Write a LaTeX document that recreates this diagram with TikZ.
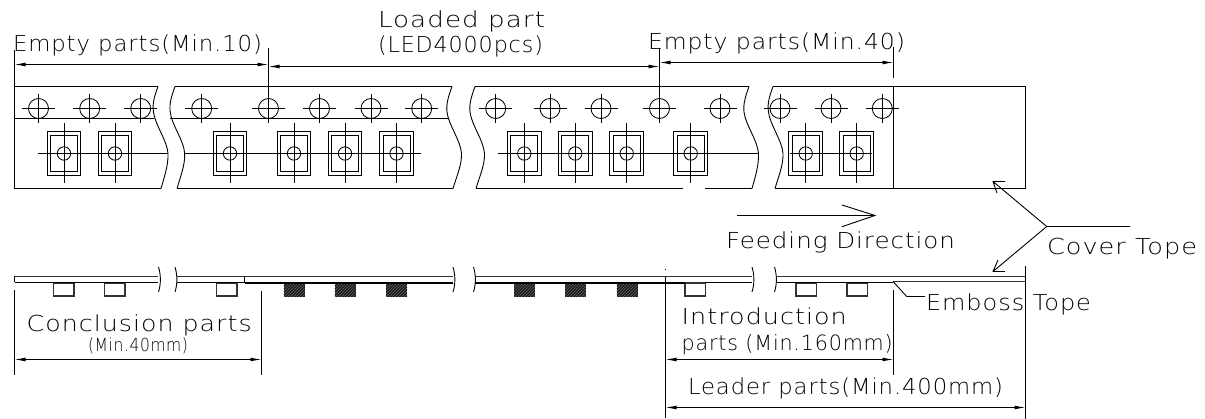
\documentclass[tikz,border=0pt]{standalone}
\usepackage{fontspec}
\usepackage{graphicx}
\usetikzlibrary{arrows.meta,patterns}
\setmainfont[LetterSpace=4]{DejaVu Sans ExtraLight}
\newcommand{\tapelabel}[6]{\node[tapetext,font=\fontsize{#5}{#5}\selectfont] (#1) at (#2,#3) {\resizebox{#4pt}{\height}{#6}};}
\tikzset{
  tapetext/.style={anchor=base west,inner sep=0pt,outer sep=0pt,text=black},
  ln/.style={draw=black,line width=0.9pt},
  dimline/.style={ln,{Latex[length=11pt,width=3.8pt]}-{Latex[length=11pt,width=3.8pt]}},
  holemark/.style={ln,line width=0.85pt},
  tapeline/.style={draw=black!80,line width=1.3pt},
  emptypocket/.style={draw=black!80,line width=1.3pt,fill=white},
}
\begin{document}
\begin{tikzpicture}[x=1pt,y=-1pt]
\useasboundingbox (0,0) rectangle (1205,419);
% named dimension points
\coordinate (e0) at (14.5,64.5);  \coordinate (e1) at (268.5,64.5);
\coordinate (l0) at (268.5,66.5); \coordinate (l1) at (659.5,66.5);
\coordinate (m0) at (659.5,62.5); \coordinate (m1) at (893.5,62.5);
\coordinate (c0) at (14.5,359.5); \coordinate (c1) at (261.5,359.5);
\coordinate (i0) at (665.5,359.5);\coordinate (i1) at (893.5,359.5);
\coordinate (r0) at (665.5,407.5);\coordinate (r1) at (1025.5,407.5);
% top strip outline
\draw[ln] (14.5,86.5)--(158,86.5) (175,86.5)--(452,86.5) (475,86.5)--(749,86.5) (773,86.5)--(1025.5,86.5)--(1025.5,188.5)--(775,188.5)
  (752,188.5)--(705,188.5) (683,188.5)--(476,188.5) (453,188.5)--(177,188.5) (161,188.5)--(14.5,188.5)--(14.5,50);
\draw[ln] (893.5,86.5)--(893.5,188.5);
\draw[ln] (14.5,118.5)--(153.5,118.5) (169.5,118.5)--(447.5,118.5);
% break curves
\foreach \dx/\top/\bot in {0/158/161,16.7/175/177,293.5/452/453,316.5/475/476,590.5/749/752,615/773/775}{
  \draw[ln] (\top,86.5) .. controls (\top-3,95) and (\top-6,103) .. (153.5+\dx,112)
    .. controls (155+\dx,125) and (167+\dx,140) .. (168+\dx,153.5)
    .. controls (168.5+\dx,165) and (\bot+3,178) .. (\bot,188.5);
}
% holes
\foreach \x in {38.5,89.7,140.7,201.7,268.5,319.5,371,421.7,495.7,550,601,659.5,720,780,831,882.3}{
  \draw[holemark] (\x,108.5) circle[radius=10];
  \draw[holemark] (\x-16.5,108.5)--(\x+16.5,108.5) (\x,94)--(\x,123);
}
% component centre lines
\draw[holemark] (38,153.5)--(168,153.5) (184.7,153.5)--(421,153.5) (498,153.5)--(758.5,153.5) (790,153.5)--(872,153.5);
% components
\foreach \x in {64,115,230,294,345,396.5,524.3,575.3,626.7,690.7,805.7,856.7}{
  \draw[holemark] (\x-16.8,131.5) rectangle (\x+16.8,175);
  \draw[holemark] (\x-13.5,135) rectangle (\x+13.5,171.5);
  \draw[holemark] (\x,153.5) circle[radius=6.7];
  \draw[holemark] (\x,123)--(\x,183);
}
% dimension lines, upper
\draw[dimline] (e0)--(e1);
\draw[dimline] (l0)--(l1);
\draw[dimline] (m0)--(m1);
\draw[ln] (268.5,48)--(268.5,94) (659.5,48)--(659.5,94) (893.5,47)--(893.5,78);
% side view pockets
\foreach \x in {53.5,104.5,216.5,685,796,847}{
  \draw[emptypocket] (\x,283) rectangle (\x+20.5,296);
}
\foreach \x in {283.5,334.5,386,514,565,616.5}{
  \fill[black!90] (\x,283) rectangle (\x+21,296.7);
  \fill[pattern=north east lines,pattern color=black!60] (\x,283) rectangle (\x+21,296.7);
}
% side view tape
\draw[tapeline] (14.5,276.5)--(158,276.5) (177,276.5)--(453,276.5) (475,276.5)--(752,276.5) (776,276.5)--(1025.5,276.5);
\draw[tapeline,line width=1pt] (893,281.5)--(1025.5,281.5);
\draw[ln,line width=1.3pt] (14.5,282.5)--(158,282.5) (177,282.5)--(244.5,282.5) (776,282.5)--(893,282.5) (705,282.5)--(752,282.5);
\draw[draw=black,line width=2pt] (244.5,283)--(453,283) (475,283)--(685,283);
\draw[ln] (14.5,276.5)--(14.5,282.5) (244.5,276.5)--(244.5,282.5) (1025.5,266)--(1025.5,419);
\foreach \x in {158.5,175,453,473.5,752,774.5}{
  \draw[ln] (\x,267) .. controls (\x+2.5,275) and (\x+2.5,284) .. (\x,292);
}
\draw[ln,line width=0.6pt] (665.5,268.6)--(665.5,269.6);
% dimension lines, lower
\draw[ln] (14.5,290)--(14.5,375) (261.5,291)--(261.5,375) (665.5,277)--(665.5,418) (893.5,290)--(893.5,375);
\draw[dimline] (c0)--(c1);
\draw[dimline] (i0)--(i1);
\draw[dimline] (r0)--(r1);
% feeding arrow
\draw[ln] (737,215.5)--(875,215.5) (842,205)--(875,215.5)--(842,226.7);
% cover tape leader
\coordinate (cj) at (1046.7,226.5);
\draw[ln] (1130,226.5)--(cj)--(993,181.5) (1005,181.5)--(993,181.5)--(997,193);
\draw[ln] (cj)--(993,271.5) (1005,271.5)--(993,271.5)--(998,260);
% emboss leader
\draw[ln] (893,281.5)--(906.7,296.5)--(925,296.5);
% labels
\tapelabel{tLoaded}{378}{27.3}{167}{22}{Loaded part}
\tapelabel{tLed}{378}{53}{165}{22}{(LED4000pcs)}
\tapelabel{tEmptyA}{13}{51.7}{249}{22}{Empty parts(Min.10)}
\tapelabel{tEmptyB}{648}{50}{257}{22}{Empty parts(Min.40)}
\tapelabel{tFeed}{726}{249}{229}{22}{Feeding Direction}
\tapelabel{tCover}{1047}{255}{150}{22}{Cover Tope}
\tapelabel{tEmboss}{926}{310.7}{165}{22}{Emboss Tope}
\tapelabel{tConcl}{26.7}{331.7}{225}{22}{Conclusion parts}
\tapelabel{tMinA}{88}{351.7}{100}{18}{(Min.40mm)}
\tapelabel{tIntro}{681.7}{325}{165}{22}{Introduction}
\tapelabel{tIntroB}{681.7}{351}{211}{21}{parts (Min.160mm)}
\tapelabel{tLeader}{688}{395}{315}{22}{Leader parts(Min.400mm)}
\end{tikzpicture}
\end{document}
